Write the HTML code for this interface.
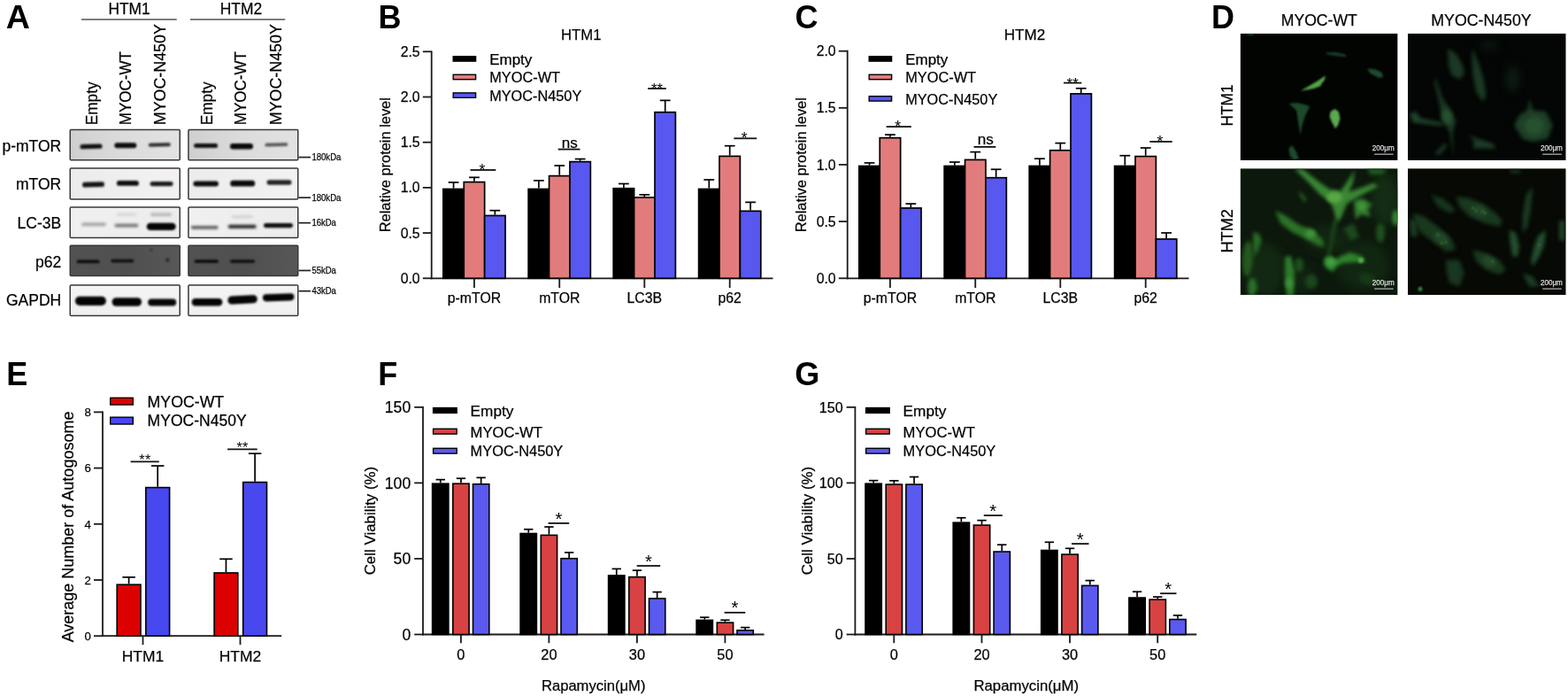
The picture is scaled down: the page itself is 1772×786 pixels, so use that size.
<!DOCTYPE html><html><head><meta charset="utf-8"><title>Figure</title><style>html,body{margin:0;padding:0;background:#fff;overflow:hidden}svg{display:block}text{font-family:"Liberation Sans", Arial, Helvetica, sans-serif}</style></head><body>
<svg width="1772" height="786" viewBox="0 0 1772 786">
<defs>
<filter color-interpolation-filters="sRGB" id="b1" x="-30%" y="-100%" width="160%" height="300%"><feGaussianBlur stdDeviation="1.1"/></filter>
<filter color-interpolation-filters="sRGB" id="b2" x="-30%" y="-100%" width="160%" height="300%"><feGaussianBlur stdDeviation="1.8"/></filter>
<filter color-interpolation-filters="sRGB" id="b3" x="-30%" y="-100%" width="160%" height="300%"><feGaussianBlur stdDeviation="2.6"/></filter>
<filter color-interpolation-filters="sRGB" id="cell" filterUnits="userSpaceOnUse" x="1390" y="30" width="390" height="310"><feGaussianBlur stdDeviation="2.2"/></filter>
<filter color-interpolation-filters="sRGB" id="cell2" filterUnits="userSpaceOnUse" x="1390" y="30" width="390" height="310"><feGaussianBlur stdDeviation="5"/></filter>
<linearGradient id="g1" x1="0" x2="1" y1="0" y2="0"><stop offset="0" stop-color="#cfcfcf"/><stop offset="0.5" stop-color="#dcdcdc"/><stop offset="1" stop-color="#e2e2e2"/></linearGradient>
<linearGradient id="g2" x1="0" x2="1" y1="0" y2="0"><stop offset="0" stop-color="#ececec"/><stop offset="1" stop-color="#f2f2f2"/></linearGradient>
<linearGradient id="g3" x1="0" x2="1" y1="0" y2="0"><stop offset="0" stop-color="#f0f0f0"/><stop offset="1" stop-color="#ececec"/></linearGradient>
<linearGradient id="g4" x1="0" x2="1" y1="0" y2="0"><stop offset="0" stop-color="#525252"/><stop offset="0.5" stop-color="#4f4f4f"/><stop offset="1" stop-color="#575757"/></linearGradient>
<linearGradient id="g5" x1="0" x2="0" y1="0" y2="1"><stop offset="0" stop-color="#f4f4f4"/><stop offset="1" stop-color="#f0f0f0"/></linearGradient>
</defs>
<rect x="0" y="0" width="1772" height="786" fill="#fff" />
<text x="6.8" y="31.8" font-size="37.6" font-weight="bold" fill="#000" >A</text>
<text x="146.1" y="15.6" font-size="17.6" text-anchor="middle" stroke="#141010" stroke-width="0.25" textLength="47.2" lengthAdjust="spacingAndGlyphs" >HTM1</text>
<text x="272.5" y="15.6" font-size="17.6" text-anchor="middle" stroke="#141010" stroke-width="0.25" textLength="47.5" lengthAdjust="spacingAndGlyphs" >HTM2</text>
<line x1="92" y1="22" x2="199.7" y2="22" stroke="#565050" stroke-width="1.6" />
<line x1="215" y1="22" x2="322.2" y2="22" stroke="#565050" stroke-width="1.6" />
<text x="109.6" y="141.2" font-size="18.4" stroke="#141010" stroke-width="0.25" textLength="48.8" lengthAdjust="spacingAndGlyphs" transform="rotate(-90 109.6 141.2)" >Empty</text>
<text x="147.9" y="141.2" font-size="18.4" stroke="#141010" stroke-width="0.25" textLength="83" lengthAdjust="spacingAndGlyphs" transform="rotate(-90 147.9 141.2)" >MYOC-WT</text>
<text x="187.3" y="141.2" font-size="18.4" stroke="#141010" stroke-width="0.25" textLength="114" lengthAdjust="spacingAndGlyphs" transform="rotate(-90 187.3 141.2)" >MYOC-N450Y</text>
<text x="239.9" y="141.2" font-size="18.4" stroke="#141010" stroke-width="0.25" textLength="48.8" lengthAdjust="spacingAndGlyphs" transform="rotate(-90 239.9 141.2)" >Empty</text>
<text x="278.1" y="141.2" font-size="18.4" stroke="#141010" stroke-width="0.25" textLength="83" lengthAdjust="spacingAndGlyphs" transform="rotate(-90 278.1 141.2)" >MYOC-WT</text>
<text x="317.6" y="141.2" font-size="18.4" stroke="#141010" stroke-width="0.25" textLength="114" lengthAdjust="spacingAndGlyphs" transform="rotate(-90 317.6 141.2)" >MYOC-N450Y</text>
<text x="69.2" y="170.9" font-size="17.5" text-anchor="end" stroke="#141010" stroke-width="0.25" >p-mTOR</text>
<text x="69.2" y="214.3" font-size="17.5" text-anchor="end" stroke="#141010" stroke-width="0.25" >mTOR</text>
<text x="69.2" y="257.7" font-size="17.5" text-anchor="end" stroke="#141010" stroke-width="0.25" >LC-3B</text>
<text x="69.2" y="301.6" font-size="17.5" text-anchor="end" stroke="#141010" stroke-width="0.25" >p62</text>
<text x="69.2" y="344.6" font-size="17.5" text-anchor="end" stroke="#141010" stroke-width="0.25" >GAPDH</text>
<rect x="79.3" y="146.6" width="123.9" height="34.1" fill="url(#g1)" />
<rect x="79.3" y="190.1" width="123.9" height="34.9" fill="url(#g2)" />
<rect x="79.3" y="234" width="123.9" height="34.5" fill="url(#g3)" />
<rect x="79.3" y="277.3" width="123.9" height="34.2" fill="url(#g4)" />
<rect x="79.3" y="322" width="123.9" height="34.5" fill="url(#g5)" />
<rect x="213" y="146.6" width="123.7" height="34.1" fill="url(#g1)" />
<rect x="213" y="190.1" width="123.7" height="34.9" fill="url(#g2)" />
<rect x="213" y="234" width="123.7" height="34.5" fill="url(#g3)" />
<rect x="213" y="277.3" width="123.7" height="34.2" fill="url(#g4)" />
<rect x="213" y="322" width="123.7" height="34.5" fill="url(#g5)" />
<rect x="90.5" y="162.8" width="25" height="5.2" rx="2.6" fill="#111" opacity="1" filter="url(#b1)" transform="rotate(-1.5 103 165.4)"/>
<rect x="129.3" y="161.2" width="25" height="6" rx="3" fill="#0c0c0c" opacity="1" filter="url(#b1)"/>
<rect x="167.8" y="161.4" width="25" height="4" rx="2" fill="#2a2a2a" opacity="1" filter="url(#b1)" transform="rotate(-1.5 180.3 163.4)"/>
<rect x="93" y="205.6" width="25" height="5.6" rx="2.8" fill="#121212" opacity="1" filter="url(#b1)" transform="rotate(-1.5 105.5 208.4)"/>
<rect x="131.9" y="204" width="25" height="5.8" rx="2.9" fill="#0e0e0e" opacity="1" filter="url(#b1)"/>
<rect x="169.6" y="204.9" width="26" height="5.4" rx="2.7" fill="#1c1c1c" opacity="1" filter="url(#b1)"/>
<rect x="92" y="251.6" width="28" height="3.6" rx="1.8" fill="#a4a4a4" opacity="1" filter="url(#b2)"/>
<rect x="129.5" y="252.65" width="27" height="3.9" rx="1.95" fill="#747474" opacity="1" filter="url(#b2)"/>
<rect x="132" y="240.7" width="22" height="3" rx="1.5" fill="#d4d4d4" opacity="1" filter="url(#b2)"/>
<rect x="170" y="240.45" width="24" height="3.5" rx="1.75" fill="#b4b4b4" opacity="1" filter="url(#b2)"/>
<rect x="165.7" y="251.7" width="33" height="8.4" rx="4.2" fill="#050505" opacity="1" filter="url(#b1)"/>
<rect x="86.6" y="293.5" width="26" height="3.8" rx="1.9" fill="#0e0e0e" opacity="1" filter="url(#b1)"/>
<rect x="125.3" y="292.7" width="26" height="3.8" rx="1.9" fill="#121212" opacity="1" filter="url(#b1)"/>
<circle cx="189.4" cy="293.7" r="2.2" fill="#2a2a2a" filter="url(#b1)"/>
<circle cx="171" cy="282" r="1.5" fill="#303030" filter="url(#b1)"/>
<rect x="84.9" y="334.7" width="35" height="10.2" rx="5.1" fill="#050505" opacity="1" filter="url(#b1)"/>
<rect x="126.55" y="336.2" width="33.5" height="9.6" rx="4.8" fill="#050505" opacity="1" filter="url(#b1)"/>
<rect x="167.2" y="337.6" width="32" height="7.8" rx="3.9" fill="#070707" opacity="1" filter="url(#b1)"/>
<rect x="219.1" y="161.9" width="27" height="5" rx="2.5" fill="#111" opacity="1" filter="url(#b1)"/>
<rect x="260" y="162" width="26" height="6.4" rx="3.2" fill="#080808" opacity="1" filter="url(#b1)"/>
<rect x="299.3" y="161.6" width="26" height="3.6" rx="1.8" fill="#555" opacity="1" filter="url(#b1)" transform="rotate(-1.5 312.3 163.4)"/>
<rect x="218.45" y="204.5" width="28.5" height="6" rx="3" fill="#0c0c0c" opacity="1" filter="url(#b1)"/>
<rect x="260.2" y="203.8" width="28" height="6.8" rx="3.4" fill="#0a0a0a" opacity="1" filter="url(#b1)"/>
<rect x="301.5" y="203.3" width="28" height="5.4" rx="2.7" fill="#242424" opacity="1" filter="url(#b1)"/>
<rect x="215.7" y="254.9" width="31" height="3.8" rx="1.9" fill="#5e5e5e" opacity="1" filter="url(#b2)"/>
<rect x="257.7" y="253.8" width="32" height="4.2" rx="2.1" fill="#2c2c2c" opacity="1" filter="url(#b2)"/>
<rect x="261.7" y="243.3" width="24" height="3" rx="1.5" fill="#cfcfcf" opacity="1" filter="url(#b2)"/>
<rect x="298" y="251.9" width="33" height="5.4" rx="2.7" fill="#111" opacity="1" filter="url(#b1)"/>
<rect x="219.55" y="293.2" width="27.5" height="3.8" rx="1.9" fill="#0e0e0e" opacity="1" filter="url(#b1)"/>
<rect x="259.95" y="293.2" width="28.3" height="3.8" rx="1.9" fill="#121212" opacity="1" filter="url(#b1)"/>
<rect x="216.65" y="337.1" width="34.7" height="8.4" rx="4.2" fill="#050505" opacity="1" filter="url(#b1)"/>
<rect x="257.35" y="333.8" width="33.5" height="9.2" rx="4.6" fill="#050505" opacity="1" filter="url(#b1)" transform="rotate(-3 274.1 338.4)"/>
<rect x="296.9" y="331.7" width="35.6" height="8.2" rx="4.1" fill="#050505" opacity="1" filter="url(#b1)" transform="rotate(-2 314.7 335.8)"/>
<rect x="79.25" y="146.55" width="124" height="34.2" fill="none" stroke="#3c3636" stroke-width="1.5" rx="1"/>
<rect x="79.25" y="190.05" width="124" height="35" fill="none" stroke="#3c3636" stroke-width="1.5" rx="1"/>
<rect x="79.25" y="233.95" width="124" height="34.6" fill="none" stroke="#3c3636" stroke-width="1.5" rx="1"/>
<rect x="79.25" y="277.25" width="124" height="34.3" fill="none" stroke="#3c3636" stroke-width="1.5" rx="1"/>
<rect x="79.25" y="321.95" width="124" height="34.6" fill="none" stroke="#3c3636" stroke-width="1.5" rx="1"/>
<rect x="212.95" y="146.55" width="123.8" height="34.2" fill="none" stroke="#3c3636" stroke-width="1.5" rx="1"/>
<rect x="212.95" y="190.05" width="123.8" height="35" fill="none" stroke="#3c3636" stroke-width="1.5" rx="1"/>
<rect x="212.95" y="233.95" width="123.8" height="34.6" fill="none" stroke="#3c3636" stroke-width="1.5" rx="1"/>
<rect x="212.95" y="277.25" width="123.8" height="34.3" fill="none" stroke="#3c3636" stroke-width="1.5" rx="1"/>
<rect x="212.95" y="321.95" width="123.8" height="34.6" fill="none" stroke="#3c3636" stroke-width="1.5" rx="1"/>
<line x1="337.5" y1="177.6" x2="351" y2="177.6" stroke="#222" stroke-width="1.7" />
<text x="352.4" y="181.3" font-size="10" stroke="#141010" stroke-width="0.25" textLength="33" lengthAdjust="spacingAndGlyphs" >180kDa</text>
<line x1="337.5" y1="223.2" x2="351" y2="223.2" stroke="#222" stroke-width="1.7" />
<text x="352.4" y="226.9" font-size="10" stroke="#141010" stroke-width="0.25" textLength="33" lengthAdjust="spacingAndGlyphs" >180kDa</text>
<line x1="337.5" y1="251.7" x2="351" y2="251.7" stroke="#222" stroke-width="1.7" />
<text x="352.4" y="255.4" font-size="10" stroke="#141010" stroke-width="0.25" textLength="27.5" lengthAdjust="spacingAndGlyphs" >16kDa</text>
<line x1="337.5" y1="305.5" x2="351" y2="305.5" stroke="#222" stroke-width="1.7" />
<text x="352.4" y="309.2" font-size="10" stroke="#141010" stroke-width="0.25" textLength="27.5" lengthAdjust="spacingAndGlyphs" >55kDa</text>
<line x1="337.5" y1="328.7" x2="351" y2="328.7" stroke="#222" stroke-width="1.7" />
<text x="352.4" y="332.4" font-size="10" stroke="#141010" stroke-width="0.25" textLength="27.5" lengthAdjust="spacingAndGlyphs" >43kDa</text>
<text x="427.5" y="31.6" font-size="36" font-weight="bold" fill="#000" >B</text>
<text x="656.7" y="44.9" font-size="16.9" text-anchor="middle" stroke="#141010" stroke-width="0.25" textLength="45.5" lengthAdjust="spacingAndGlyphs" >HTM1</text>
<line x1="487.7" y1="57.4" x2="487.7" y2="315.2" stroke="#1a1a1a" stroke-width="1.8" />
<line x1="486.8" y1="314.3" x2="873.5" y2="314.3" stroke="#1a1a1a" stroke-width="1.8" />
<line x1="477.8" y1="58.3" x2="487.7" y2="58.3" stroke="#1a1a1a" stroke-width="1.8" />
<text x="474.6" y="63.8" font-size="15.8" text-anchor="end" stroke="#141010" stroke-width="0.25" >2.5</text>
<line x1="477.8" y1="109.5" x2="487.7" y2="109.5" stroke="#1a1a1a" stroke-width="1.8" />
<text x="474.6" y="115" font-size="15.8" text-anchor="end" stroke="#141010" stroke-width="0.25" >2.0</text>
<line x1="477.8" y1="160.7" x2="487.7" y2="160.7" stroke="#1a1a1a" stroke-width="1.8" />
<text x="474.6" y="166.2" font-size="15.8" text-anchor="end" stroke="#141010" stroke-width="0.25" >1.5</text>
<line x1="477.8" y1="211.9" x2="487.7" y2="211.9" stroke="#1a1a1a" stroke-width="1.8" />
<text x="474.6" y="217.4" font-size="15.8" text-anchor="end" stroke="#141010" stroke-width="0.25" >1.0</text>
<line x1="477.8" y1="263.1" x2="487.7" y2="263.1" stroke="#1a1a1a" stroke-width="1.8" />
<text x="474.6" y="268.6" font-size="15.8" text-anchor="end" stroke="#141010" stroke-width="0.25" >0.5</text>
<line x1="477.8" y1="314.3" x2="487.7" y2="314.3" stroke="#1a1a1a" stroke-width="1.8" />
<text x="474.6" y="319.8" font-size="15.8" text-anchor="end" stroke="#141010" stroke-width="0.25" >0.0</text>
<text x="440.8" y="262.3" font-size="16.1" stroke="#141010" stroke-width="0.25" textLength="152.2" lengthAdjust="spacingAndGlyphs" transform="rotate(-90 440.8 262.3)" >Relative protein level</text>
<rect x="512.2" y="63.7" width="25.4" height="5.4" fill="#000" stroke="#000" stroke-width="1.4" />
<text x="553.2" y="72.8" font-size="15.6" stroke="#141010" stroke-width="0.25" textLength="48.1" lengthAdjust="spacingAndGlyphs" >Empty</text>
<rect x="512.2" y="84.3" width="25.4" height="5.4" fill="#e27c7c" stroke="#000" stroke-width="1.4" />
<text x="553.2" y="93.4" font-size="15.6" stroke="#141010" stroke-width="0.25" textLength="79.9" lengthAdjust="spacingAndGlyphs" >MYOC-WT</text>
<rect x="512.2" y="104.9" width="25.4" height="5.4" fill="#5858f0" stroke="#000" stroke-width="1.4" />
<text x="553.2" y="114" font-size="15.6" stroke="#141010" stroke-width="0.25" textLength="104.1" lengthAdjust="spacingAndGlyphs" >MYOC-N450Y</text>
<rect x="500.85" y="213.47" width="23.4" height="100.83" fill="#000" stroke="#000" stroke-width="1.7" />
<rect x="524.25" y="205.58" width="23.4" height="108.72" fill="#e27c7c" stroke="#000" stroke-width="1.7" />
<rect x="547.65" y="243.47" width="23.4" height="70.83" fill="#5858f0" stroke="#000" stroke-width="1.7" />
<line x1="512.55" y1="212.62" x2="512.55" y2="205.96" stroke="#000" stroke-width="1.7" />
<line x1="506.65" y1="205.96" x2="518.45" y2="205.96" stroke="#000" stroke-width="1.7" />
<line x1="535.95" y1="204.73" x2="535.95" y2="200.33" stroke="#000" stroke-width="1.7" />
<line x1="530.05" y1="200.33" x2="541.85" y2="200.33" stroke="#000" stroke-width="1.7" />
<line x1="559.35" y1="242.62" x2="559.35" y2="237.7" stroke="#000" stroke-width="1.7" />
<line x1="553.45" y1="237.7" x2="565.25" y2="237.7" stroke="#000" stroke-width="1.7" />
<line x1="535.95" y1="314.3" x2="535.95" y2="325" stroke="#1a1a1a" stroke-width="1.8" />
<text x="535.95" y="342" font-size="15.8" text-anchor="middle" stroke="#141010" stroke-width="0.25" >p-mTOR</text>
<rect x="597.15" y="213.47" width="23.4" height="100.83" fill="#000" stroke="#000" stroke-width="1.7" />
<rect x="620.55" y="198.62" width="23.4" height="115.68" fill="#e27c7c" stroke="#000" stroke-width="1.7" />
<rect x="643.95" y="182.64" width="23.4" height="131.66" fill="#5858f0" stroke="#000" stroke-width="1.7" />
<line x1="608.85" y1="212.62" x2="608.85" y2="203.91" stroke="#000" stroke-width="1.7" />
<line x1="602.95" y1="203.91" x2="614.75" y2="203.91" stroke="#000" stroke-width="1.7" />
<line x1="632.25" y1="197.77" x2="632.25" y2="187.02" stroke="#000" stroke-width="1.7" />
<line x1="626.35" y1="187.02" x2="638.15" y2="187.02" stroke="#000" stroke-width="1.7" />
<line x1="655.65" y1="181.79" x2="655.65" y2="179.54" stroke="#000" stroke-width="1.7" />
<line x1="649.75" y1="179.54" x2="661.55" y2="179.54" stroke="#000" stroke-width="1.7" />
<line x1="632.25" y1="314.3" x2="632.25" y2="325" stroke="#1a1a1a" stroke-width="1.8" />
<text x="632.25" y="342" font-size="15.8" text-anchor="middle" stroke="#141010" stroke-width="0.25" >mTOR</text>
<rect x="693.2" y="212.75" width="23.4" height="101.55" fill="#000" stroke="#000" stroke-width="1.7" />
<rect x="716.6" y="222.99" width="23.4" height="91.31" fill="#e27c7c" stroke="#000" stroke-width="1.7" />
<rect x="740" y="126.73" width="23.4" height="187.57" fill="#5858f0" stroke="#000" stroke-width="1.7" />
<line x1="704.9" y1="211.9" x2="704.9" y2="207.5" stroke="#000" stroke-width="1.7" />
<line x1="699" y1="207.5" x2="710.8" y2="207.5" stroke="#000" stroke-width="1.7" />
<line x1="728.3" y1="222.14" x2="728.3" y2="219.89" stroke="#000" stroke-width="1.7" />
<line x1="722.4" y1="219.89" x2="734.2" y2="219.89" stroke="#000" stroke-width="1.7" />
<line x1="751.7" y1="125.88" x2="751.7" y2="113.39" stroke="#000" stroke-width="1.7" />
<line x1="745.8" y1="113.39" x2="757.6" y2="113.39" stroke="#000" stroke-width="1.7" />
<line x1="728.3" y1="314.3" x2="728.3" y2="325" stroke="#1a1a1a" stroke-width="1.8" />
<text x="728.3" y="342" font-size="15.8" text-anchor="middle" stroke="#141010" stroke-width="0.25" >LC3B</text>
<rect x="789.6" y="213.47" width="23.4" height="100.83" fill="#000" stroke="#000" stroke-width="1.7" />
<rect x="813" y="176.4" width="23.4" height="137.9" fill="#e27c7c" stroke="#000" stroke-width="1.7" />
<rect x="836.4" y="238.35" width="23.4" height="75.95" fill="#5858f0" stroke="#000" stroke-width="1.7" />
<line x1="801.3" y1="212.62" x2="801.3" y2="202.99" stroke="#000" stroke-width="1.7" />
<line x1="795.4" y1="202.99" x2="807.2" y2="202.99" stroke="#000" stroke-width="1.7" />
<line x1="824.7" y1="175.55" x2="824.7" y2="164.69" stroke="#000" stroke-width="1.7" />
<line x1="818.8" y1="164.69" x2="830.6" y2="164.69" stroke="#000" stroke-width="1.7" />
<line x1="848.1" y1="237.5" x2="848.1" y2="228.39" stroke="#000" stroke-width="1.7" />
<line x1="842.2" y1="228.39" x2="854" y2="228.39" stroke="#000" stroke-width="1.7" />
<line x1="824.7" y1="314.3" x2="824.7" y2="325" stroke="#1a1a1a" stroke-width="1.8" />
<text x="824.7" y="342" font-size="15.8" text-anchor="middle" stroke="#141010" stroke-width="0.25" >p62</text>
<line x1="531.5" y1="192" x2="560.3" y2="192" stroke="#111" stroke-width="1.8" />
<text x="544.9" y="197.58" font-size="17.65" text-anchor="middle" fill="#000" >*</text>
<line x1="630.7" y1="168.6" x2="655.5" y2="168.6" stroke="#111" stroke-width="1.8" />
<text x="643.9" y="166.7" font-size="17.1" text-anchor="middle" stroke="#141010" stroke-width="0.25" >ns</text>
<line x1="732.1" y1="100" x2="752.8" y2="100" stroke="#111" stroke-width="1.8" />
<text x="739.15" y="106.12" font-size="16.76" text-anchor="middle" fill="#000" >*</text>
<text x="745.75" y="106.12" font-size="16.76" text-anchor="middle" fill="#000" >*</text>
<line x1="829.3" y1="156.3" x2="855.2" y2="156.3" stroke="#111" stroke-width="1.8" />
<text x="841.25" y="161.88" font-size="17.65" text-anchor="middle" fill="#000" >*</text>
<text x="898.5" y="31.6" font-size="36" font-weight="bold" fill="#000" >C</text>
<text x="1158" y="44.9" font-size="16.9" text-anchor="middle" stroke="#141010" stroke-width="0.25" textLength="46.5" lengthAdjust="spacingAndGlyphs" >HTM2</text>
<line x1="957.7" y1="56.8" x2="957.7" y2="315.2" stroke="#1a1a1a" stroke-width="1.8" />
<line x1="956.8" y1="314.3" x2="1343.5" y2="314.3" stroke="#1a1a1a" stroke-width="1.8" />
<line x1="947.8" y1="57.7" x2="957.7" y2="57.7" stroke="#1a1a1a" stroke-width="1.8" />
<text x="944.6" y="63.2" font-size="15.8" text-anchor="end" stroke="#141010" stroke-width="0.25" >2.0</text>
<line x1="947.8" y1="121.85" x2="957.7" y2="121.85" stroke="#1a1a1a" stroke-width="1.8" />
<text x="944.6" y="127.35" font-size="15.8" text-anchor="end" stroke="#141010" stroke-width="0.25" >1.5</text>
<line x1="947.8" y1="186" x2="957.7" y2="186" stroke="#1a1a1a" stroke-width="1.8" />
<text x="944.6" y="191.5" font-size="15.8" text-anchor="end" stroke="#141010" stroke-width="0.25" >1.0</text>
<line x1="947.8" y1="250.15" x2="957.7" y2="250.15" stroke="#1a1a1a" stroke-width="1.8" />
<text x="944.6" y="255.65" font-size="15.8" text-anchor="end" stroke="#141010" stroke-width="0.25" >0.5</text>
<line x1="947.8" y1="314.3" x2="957.7" y2="314.3" stroke="#1a1a1a" stroke-width="1.8" />
<text x="944.6" y="319.8" font-size="15.8" text-anchor="end" stroke="#141010" stroke-width="0.25" >0.0</text>
<text x="910.8" y="262.3" font-size="16.1" stroke="#141010" stroke-width="0.25" textLength="152.2" lengthAdjust="spacingAndGlyphs" transform="rotate(-90 910.8 262.3)" >Relative protein level</text>
<rect x="982.2" y="63.7" width="25.4" height="5.4" fill="#000" stroke="#000" stroke-width="1.4" />
<text x="1023.2" y="72.8" font-size="15.6" stroke="#141010" stroke-width="0.25" textLength="48.1" lengthAdjust="spacingAndGlyphs" >Empty</text>
<rect x="982.2" y="84.3" width="25.4" height="5.4" fill="#e27c7c" stroke="#000" stroke-width="1.4" />
<text x="1023.2" y="93.4" font-size="15.6" stroke="#141010" stroke-width="0.25" textLength="79.9" lengthAdjust="spacingAndGlyphs" >MYOC-WT</text>
<rect x="982.2" y="108.7" width="25.4" height="5.4" fill="#5858f0" stroke="#000" stroke-width="1.4" />
<text x="1023.2" y="117.8" font-size="15.6" stroke="#141010" stroke-width="0.25" textLength="104.1" lengthAdjust="spacingAndGlyphs" >MYOC-N450Y</text>
<rect x="970.85" y="187.49" width="23.4" height="126.81" fill="#000" stroke="#000" stroke-width="1.7" />
<rect x="994.25" y="155.67" width="23.4" height="158.63" fill="#e27c7c" stroke="#000" stroke-width="1.7" />
<rect x="1017.65" y="234.96" width="23.4" height="79.34" fill="#5858f0" stroke="#000" stroke-width="1.7" />
<line x1="982.55" y1="186.64" x2="982.55" y2="183.95" stroke="#000" stroke-width="1.7" />
<line x1="976.65" y1="183.95" x2="988.45" y2="183.95" stroke="#000" stroke-width="1.7" />
<line x1="1005.95" y1="154.82" x2="1005.95" y2="152.13" stroke="#000" stroke-width="1.7" />
<line x1="1000.05" y1="152.13" x2="1011.85" y2="152.13" stroke="#000" stroke-width="1.7" />
<line x1="1029.35" y1="234.11" x2="1029.35" y2="230.14" stroke="#000" stroke-width="1.7" />
<line x1="1023.45" y1="230.14" x2="1035.25" y2="230.14" stroke="#000" stroke-width="1.7" />
<line x1="1005.95" y1="314.3" x2="1005.95" y2="325" stroke="#1a1a1a" stroke-width="1.8" />
<text x="1005.95" y="342" font-size="15.8" text-anchor="middle" stroke="#141010" stroke-width="0.25" >p-mTOR</text>
<rect x="1067.15" y="187.49" width="23.4" height="126.81" fill="#000" stroke="#000" stroke-width="1.7" />
<rect x="1090.55" y="180.43" width="23.4" height="133.87" fill="#e27c7c" stroke="#000" stroke-width="1.7" />
<rect x="1113.95" y="200.71" width="23.4" height="113.59" fill="#5858f0" stroke="#000" stroke-width="1.7" />
<line x1="1078.85" y1="186.64" x2="1078.85" y2="183.05" stroke="#000" stroke-width="1.7" />
<line x1="1072.95" y1="183.05" x2="1084.75" y2="183.05" stroke="#000" stroke-width="1.7" />
<line x1="1102.25" y1="179.58" x2="1102.25" y2="171.63" stroke="#000" stroke-width="1.7" />
<line x1="1096.35" y1="171.63" x2="1108.15" y2="171.63" stroke="#000" stroke-width="1.7" />
<line x1="1125.65" y1="199.86" x2="1125.65" y2="191.26" stroke="#000" stroke-width="1.7" />
<line x1="1119.75" y1="191.26" x2="1131.55" y2="191.26" stroke="#000" stroke-width="1.7" />
<line x1="1102.25" y1="314.3" x2="1102.25" y2="325" stroke="#1a1a1a" stroke-width="1.8" />
<text x="1102.25" y="342" font-size="15.8" text-anchor="middle" stroke="#141010" stroke-width="0.25" >mTOR</text>
<rect x="1163.2" y="187.49" width="23.4" height="126.81" fill="#000" stroke="#000" stroke-width="1.7" />
<rect x="1186.6" y="169.79" width="23.4" height="144.51" fill="#e27c7c" stroke="#000" stroke-width="1.7" />
<rect x="1210" y="105.89" width="23.4" height="208.41" fill="#5858f0" stroke="#000" stroke-width="1.7" />
<line x1="1174.9" y1="186.64" x2="1174.9" y2="179.2" stroke="#000" stroke-width="1.7" />
<line x1="1169" y1="179.2" x2="1180.8" y2="179.2" stroke="#000" stroke-width="1.7" />
<line x1="1198.3" y1="168.94" x2="1198.3" y2="161.62" stroke="#000" stroke-width="1.7" />
<line x1="1192.4" y1="161.62" x2="1204.2" y2="161.62" stroke="#000" stroke-width="1.7" />
<line x1="1221.7" y1="105.04" x2="1221.7" y2="99.78" stroke="#000" stroke-width="1.7" />
<line x1="1215.8" y1="99.78" x2="1227.6" y2="99.78" stroke="#000" stroke-width="1.7" />
<line x1="1198.3" y1="314.3" x2="1198.3" y2="325" stroke="#1a1a1a" stroke-width="1.8" />
<text x="1198.3" y="342" font-size="15.8" text-anchor="middle" stroke="#141010" stroke-width="0.25" >LC3B</text>
<rect x="1259.6" y="187.49" width="23.4" height="126.81" fill="#000" stroke="#000" stroke-width="1.7" />
<rect x="1283" y="176.59" width="23.4" height="137.71" fill="#e27c7c" stroke="#000" stroke-width="1.7" />
<rect x="1306.4" y="269.99" width="23.4" height="44.31" fill="#5858f0" stroke="#000" stroke-width="1.7" />
<line x1="1271.3" y1="186.64" x2="1271.3" y2="175.74" stroke="#000" stroke-width="1.7" />
<line x1="1265.4" y1="175.74" x2="1277.2" y2="175.74" stroke="#000" stroke-width="1.7" />
<line x1="1294.7" y1="175.74" x2="1294.7" y2="167.01" stroke="#000" stroke-width="1.7" />
<line x1="1288.8" y1="167.01" x2="1300.6" y2="167.01" stroke="#000" stroke-width="1.7" />
<line x1="1318.1" y1="269.14" x2="1318.1" y2="262.98" stroke="#000" stroke-width="1.7" />
<line x1="1312.2" y1="262.98" x2="1324" y2="262.98" stroke="#000" stroke-width="1.7" />
<line x1="1294.7" y1="314.3" x2="1294.7" y2="325" stroke="#1a1a1a" stroke-width="1.8" />
<text x="1294.7" y="342" font-size="15.8" text-anchor="middle" stroke="#141010" stroke-width="0.25" >p62</text>
<line x1="1001.6" y1="143.1" x2="1029.8" y2="143.1" stroke="#111" stroke-width="1.8" />
<text x="1014.7" y="148.68" font-size="17.65" text-anchor="middle" fill="#000" >*</text>
<line x1="1100.5" y1="165.9" x2="1125.3" y2="165.9" stroke="#111" stroke-width="1.8" />
<text x="1113.7" y="162.7" font-size="17.1" text-anchor="middle" stroke="#141010" stroke-width="0.25" >ns</text>
<line x1="1202" y1="93.6" x2="1222.3" y2="93.6" stroke="#111" stroke-width="1.8" />
<text x="1208.85" y="99.72" font-size="16.76" text-anchor="middle" fill="#000" >*</text>
<text x="1215.45" y="99.72" font-size="16.76" text-anchor="middle" fill="#000" >*</text>
<line x1="1299.3" y1="160" x2="1324.7" y2="160" stroke="#111" stroke-width="1.8" />
<text x="1311" y="165.58" font-size="17.65" text-anchor="middle" fill="#000" >*</text>
<text x="1369" y="32" font-size="36" font-weight="bold" fill="#000" >D</text>
<text x="1490.8" y="29.3" font-size="17.6" text-anchor="middle" stroke="#141010" stroke-width="0.25" textLength="86" lengthAdjust="spacingAndGlyphs" >MYOC-WT</text>
<text x="1674" y="29.3" font-size="17.6" text-anchor="middle" stroke="#141010" stroke-width="0.25" textLength="113.3" lengthAdjust="spacingAndGlyphs" >MYOC-N450Y</text>
<text x="1393.4" y="118.9" font-size="18.2" text-anchor="middle" stroke="#141010" stroke-width="0.25" textLength="47.2" lengthAdjust="spacingAndGlyphs" transform="rotate(-90 1393.4 118.9)" >HTM1</text>
<text x="1393.4" y="260.8" font-size="18.2" text-anchor="middle" stroke="#141010" stroke-width="0.25" textLength="49.5" lengthAdjust="spacingAndGlyphs" transform="rotate(-90 1393.4 260.8)" >HTM2</text>
<clipPath id="cp0"><rect x="1401.6" y="37.8" width="178" height="143.2"/></clipPath>
<clipPath id="cp1"><rect x="1591" y="37.8" width="178.7" height="143.2"/></clipPath>
<clipPath id="cp2"><rect x="1401.6" y="190.2" width="178" height="142.8"/></clipPath>
<clipPath id="cp3"><rect x="1591" y="190.2" width="178.7" height="142.8"/></clipPath>
<g clip-path="url(#cp0)">
<rect x="1401.6" y="37.8" width="178" height="143.2" fill="#020402" />
<polygon points="1469.64,102.82 1479.05,97.17 1490.34,90.58 1497.87,85.31 1496.93,90.58 1494.11,93.41 1492.23,97.17 1484.7,99.99" fill="#56a04c" opacity="1" filter="url(#b1)"/>
<polygon points="1503.52,126.34 1508.23,122.96 1512.93,126.34 1514.44,133.87 1512.55,140.46 1509.17,145.17 1505.4,138.58 1502.58,131.99" fill="#5aa850" opacity="1" filter="url(#b1)"/>
<polygon points="1456.47,116.93 1465.88,115.99 1477.17,118.82 1479.99,120.7 1475.29,130.11 1471.52,141.4 1469.64,152.69 1467.76,141.4 1464.94,124.46" fill="#1c4a2a" opacity="1" filter="url(#b1)"/>
<polygon points="1544.93,77.41 1554.34,78.35 1561.87,82.11 1562.81,87.76 1558.1,87.76 1548.69,83.05" fill="#1f4a2e" opacity="1" filter="url(#b1)"/>
<polygon points="1497.87,59.53 1509.17,58.96 1520.46,61.41 1521.4,64.23 1511.05,63.29 1499.76,61.41" fill="#1c3e28" opacity="1" filter="url(#b1)"/>
<polygon points="1456.47,167.75 1460.23,163.99 1464.94,171.52 1467.76,179.05 1462.11,180.93 1457.41,175.28" fill="#1c4a2a" opacity="1" filter="url(#b1)"/>
<ellipse cx="1413.18" cy="38.26" rx="4.71" ry="1.13" fill="#2a6a3a" opacity="1" filter="url(#b1)" transform="rotate(0 1413.18 38.26)"/>
</g>
<g clip-path="url(#cp1)">
<rect x="1591" y="37.8" width="178.7" height="143.2" fill="#030604" />
<polygon points="1636.05,54.82 1645.47,60.47 1652.99,73.64 1654.88,83.05 1649.23,89.64 1639.82,84 1637,73.64" fill="#1b3823" opacity="1" filter="url(#cell)"/>
<polygon points="1664.29,54.82 1671.82,73.64 1677.46,92.47 1679.34,107.52 1675.58,115.05 1668.05,103.76 1664.29,83.05 1663.35,64.23" fill="#1b3823" opacity="1" filter="url(#cell)"/>
<polygon points="1621.94,86.82 1630.41,111.29 1639.82,124.46 1645.47,137.64 1641.7,148.93 1642.64,179.05 1638.31,148.93 1630.41,135.76 1626.64,116.93 1621,92.47" fill="#1b3823" opacity="1" filter="url(#cell)"/>
<ellipse cx="1635.11" cy="131.99" rx="5.65" ry="8.47" fill="#26502f" opacity="1" filter="url(#cell)" transform="rotate(-15 1635.11 131.99)"/>
<polygon points="1728.28,111.29 1732.05,124.46 1747.1,126.34 1754.63,141.4 1748.98,156.46 1732.05,160.22 1720.75,156.46 1711.34,141.4 1716.99,130.11 1726.4,124.46" fill="#1e3f26" opacity="1" filter="url(#cell)"/>
<ellipse cx="1733.93" cy="142.34" rx="11.29" ry="10.35" fill="#26502f" opacity="1" filter="url(#cell)" transform="rotate(0 1733.93 142.34)"/>
<polygon points="1592.76,128.23 1600.29,126.34 1605.94,133.87 1630.41,138.58 1630.41,142.34 1605.94,139.52 1596.53,138.58" fill="#1f4229" opacity="1" filter="url(#cell)"/>
<polygon points="1660.52,152.69 1669.93,156.46 1686.87,162.11 1690.64,167.75 1677.46,167.75 1664.29,167.75 1666.17,160.22" fill="#1c3c26" opacity="1" filter="url(#cell)"/>
<polygon points="1621,173.4 1632.29,162.11 1636.05,163.99 1626.64,175.28" fill="#1a3824" opacity="1" filter="url(#cell)"/>
<ellipse cx="1709.46" cy="88.7" rx="7.53" ry="15.06" fill="#0d1c12" opacity="1" filter="url(#cell2)" transform="rotate(0 1709.46 88.7)"/>
<ellipse cx="1683.11" cy="51.06" rx="11.29" ry="5.65" fill="#0b160e" opacity="1" filter="url(#cell2)" transform="rotate(0 1683.11 51.06)"/>
</g>
<g clip-path="url(#cp2)">
<rect x="1401.6" y="190.2" width="178" height="142.8" fill="#0c180c" />
<ellipse cx="1430" cy="305" rx="22" ry="30" fill="#122812" opacity="1" filter="url(#cell2)" transform="rotate(0 1430 305)"/>
<ellipse cx="1540" cy="300" rx="30" ry="28" fill="#112611" opacity="1" filter="url(#cell2)" transform="rotate(0 1540 300)"/>
<ellipse cx="1565" cy="225" rx="16" ry="30" fill="#132c13" opacity="1" filter="url(#cell2)" transform="rotate(0 1565 225)"/>
<ellipse cx="1500" cy="270" rx="25" ry="15" fill="#112611" opacity="1" filter="url(#cell2)" transform="rotate(0 1500 270)"/>
<ellipse cx="1470" cy="315" rx="15" ry="18" fill="#102410" opacity="1" filter="url(#cell2)" transform="rotate(0 1470 315)"/>
<polygon points="1463,191 1472,191 1490,205 1503,214 1515,216 1526,200 1531,192 1529,206 1524,217 1552,207 1558,210 1536,222 1522,230 1516,245 1511,252 1508,240 1504,228 1492,220 1478,205" fill="#3a8634" opacity="1" filter="url(#cell)"/>
<ellipse cx="1508" cy="223" rx="9" ry="6.5" fill="#58a846" opacity="1" filter="url(#cell)" transform="rotate(0 1508 223)"/>
<polygon points="1530,226 1540,224 1551,231 1546,236 1549,245 1538,242 1532,248 1531,238" fill="#347e30" opacity="1" filter="url(#cell)"/>
<ellipse cx="1539" cy="233" rx="4" ry="4" fill="#48983e" opacity="1" filter="url(#cell)" transform="rotate(0 1539 233)"/>
<polygon points="1507,248 1511,248 1506,275 1503,290 1500,288 1504,270" fill="#1e4e1e" opacity="1" filter="url(#cell)"/>
<polygon points="1441,238 1452,243 1468,254 1482,259 1494,270 1497,279 1489,277 1476,270 1460,262 1447,252" fill="#2c7228" opacity="1" filter="url(#cell)"/>
<ellipse cx="1481" cy="264" rx="6" ry="5" fill="#3e923a" opacity="1" filter="url(#cell)" transform="rotate(0 1481 264)"/>
<polygon points="1467,217 1471,218 1477,226 1474,228" fill="#2a6a28" opacity="1" filter="url(#cell)"/>
<polygon points="1497,290 1504,289 1509,293 1516,289 1526,285 1540,290 1543,296 1533,296 1518,297 1510,301 1507,307 1500,304 1496,298" fill="#2e822c" opacity="1" filter="url(#cell)"/>
<ellipse cx="1504" cy="296" rx="5.5" ry="5" fill="#44a040" opacity="1" filter="url(#cell)" transform="rotate(0 1504 296)"/>
<ellipse cx="1538" cy="294" rx="3.2" ry="3" fill="#4cac48" opacity="1" filter="url(#b1)" transform="rotate(0 1538 294)"/>
<ellipse cx="1410" cy="292" rx="6" ry="20" fill="#24581f" opacity="1" filter="url(#cell)" transform="rotate(3 1410 292)"/>
<polygon points="1416,262 1423,264 1426,272 1422,282 1418,290 1416,278" fill="#286a26" opacity="1" filter="url(#cell)"/>
<polygon points="1413,313 1419,316 1421,326 1417,334 1411,334 1410,322" fill="#2a6e28" opacity="1" filter="url(#cell)"/>
<polygon points="1452,290 1459,289 1463,305 1462,334 1454,334 1452,312" fill="#2e7a2c" opacity="1" filter="url(#cell)"/>
<ellipse cx="1457" cy="320" rx="4" ry="6" fill="#3e923a" opacity="1" filter="url(#cell)" transform="rotate(0 1457 320)"/>
<ellipse cx="1468" cy="299" rx="5" ry="8" fill="#1f4e1f" opacity="1" filter="url(#cell)" transform="rotate(0 1468 299)"/>
<ellipse cx="1482" cy="318" rx="7" ry="8" fill="#1c461c" opacity="1" filter="url(#cell)" transform="rotate(0 1482 318)"/>
<ellipse cx="1560" cy="263" rx="5" ry="11" fill="#1f501f" opacity="1" filter="url(#cell)" transform="rotate(0 1560 263)"/>
<ellipse cx="1577" cy="246" rx="3.5" ry="9" fill="#3a8a36" opacity="1" filter="url(#cell)" transform="rotate(0 1577 246)"/>
<polygon points="1545,190 1568,191 1562,197 1548,197" fill="#245c22" opacity="1" filter="url(#cell)"/>
<polygon points="1518,258 1530,252 1536,268 1526,272" fill="#1c481c" opacity="1" filter="url(#cell)"/>
<ellipse cx="1545" cy="315" rx="10" ry="6" fill="#163a16" opacity="1" filter="url(#cell)" transform="rotate(20 1545 315)"/>
</g>
<g clip-path="url(#cp3)">
<rect x="1591" y="190.2" width="178.7" height="142.8" fill="#060904" />
<polygon points="1645.47,221.88 1660.52,223.76 1677.46,231.29 1690.64,240.7 1698.17,250.11 1694.4,255.76 1677.46,251.99 1660.52,244.47 1649.23,233.17" fill="#19381d" opacity="1" filter="url(#cell)"/>
<ellipse cx="1671.82" cy="237.88" rx="9.41" ry="5.65" fill="#22482a" opacity="1" filter="url(#cell)" transform="rotate(25 1671.82 237.88)"/>
<polygon points="1596.53,240.7 1609.7,244.47 1624.76,255.76 1639.82,268.93 1645.47,282.11 1634.17,283.99 1619.11,272.7 1604.06,261.4 1598.41,250.11" fill="#19381d" opacity="1" filter="url(#cell)"/>
<ellipse cx="1628.53" cy="268.93" rx="9.41" ry="5.65" fill="#22482a" opacity="1" filter="url(#cell)" transform="rotate(35 1628.53 268.93)"/>
<polygon points="1664.29,282.11 1679.34,285.87 1694.4,293.4 1701.93,304.69 1694.4,310.34 1679.34,304.69 1668.05,295.28" fill="#19381d" opacity="1" filter="url(#cell)"/>
<ellipse cx="1683.11" cy="295.28" rx="8.47" ry="5.27" fill="#234a2a" opacity="1" filter="url(#cell)" transform="rotate(30 1683.11 295.28)"/>
<polygon points="1705.69,259.52 1713.22,263.29 1716.99,278.34 1715.11,289.64 1709.46,289.64 1706.64,274.58" fill="#244e2e" opacity="1" filter="url(#cell)"/>
<polygon points="1737.69,267.05 1747.1,259.52 1745.22,276.46 1739.57,289.64 1732.05,300.93 1730.16,293.4 1733.93,278.34" fill="#244e2e" opacity="1" filter="url(#cell)"/>
<polygon points="1724.52,220 1732.05,210.59 1730.16,235.05 1726.4,255.76 1720.75,263.29 1720.75,244.47" fill="#1a3a22" opacity="1" filter="url(#cell)"/>
<polygon points="1634.17,293.4 1649.23,293.4 1654.88,308.46 1649.23,323.52 1637.94,319.75 1634.17,304.69" fill="#183620" opacity="1" filter="url(#cell)"/>
<polygon points="1617.23,220 1630.41,223.76 1645.47,236.94 1637.94,240.7 1624.76,233.17" fill="#17341e" opacity="1" filter="url(#cell)"/>
<polygon points="1762.16,250.11 1767.81,248.23 1767.81,272.7 1762.16,270.82" fill="#22482a" opacity="1" filter="url(#cell)"/>
<polygon points="1720.75,308.46 1732.05,312.22 1739.57,323.52 1728.28,323.52" fill="#1c3c24" opacity="1" filter="url(#cell)"/>
<polygon points="1705.69,191.76 1718.87,191.76 1716.99,195.53 1707.58,195.53" fill="#1c3c24" opacity="1" filter="url(#cell)"/>
<polygon points="1592.76,246.35 1600.29,250.11 1602.18,267.05 1594.65,267.05" fill="#1c3c24" opacity="1" filter="url(#cell)"/>
<ellipse cx="1605" cy="326.34" rx="2.26" ry="2.64" fill="#3a8a48" opacity="1" filter="url(#b1)" transform="rotate(0 1605 326.34)"/>
<ellipse cx="1664.29" cy="235.05" rx="1.13" ry="1.13" fill="#3e8a44" opacity="1" filter="url(#b1)" transform="rotate(0 1664.29 235.05)"/>
<ellipse cx="1668.05" cy="237.88" rx="1.13" ry="1.13" fill="#3e8a44" opacity="1" filter="url(#b1)" transform="rotate(0 1668.05 237.88)"/>
<ellipse cx="1675.58" cy="238.82" rx="1.13" ry="1.13" fill="#3e8a44" opacity="1" filter="url(#b1)" transform="rotate(0 1675.58 238.82)"/>
<ellipse cx="1678.4" cy="240.7" rx="1.13" ry="1.13" fill="#3e8a44" opacity="1" filter="url(#b1)" transform="rotate(0 1678.4 240.7)"/>
<ellipse cx="1624.76" cy="265.17" rx="1.13" ry="1.13" fill="#3e8a44" opacity="1" filter="url(#b1)" transform="rotate(0 1624.76 265.17)"/>
<ellipse cx="1629.47" cy="274.58" rx="1.13" ry="1.13" fill="#3e8a44" opacity="1" filter="url(#b1)" transform="rotate(0 1629.47 274.58)"/>
<ellipse cx="1634.17" cy="273.64" rx="1.13" ry="1.13" fill="#3e8a44" opacity="1" filter="url(#b1)" transform="rotate(0 1634.17 273.64)"/>
<ellipse cx="1686.87" cy="295.28" rx="1.13" ry="1.13" fill="#3e8a44" opacity="1" filter="url(#b1)" transform="rotate(0 1686.87 295.28)"/>
<ellipse cx="1739.57" cy="276.46" rx="1.13" ry="1.13" fill="#3e8a44" opacity="1" filter="url(#b1)" transform="rotate(0 1739.57 276.46)"/>
</g>
<text x="1563.3" y="170" font-size="8.8" text-anchor="middle" fill="#dcdcdc" stroke="#dcdcdc" stroke-width="0.25" textLength="25" lengthAdjust="spacingAndGlyphs" >200μm</text>
<line x1="1553.1" y1="174.2" x2="1574.7" y2="174.2" stroke="#a0a0a0" stroke-width="1.4" />
<text x="1753.4" y="170" font-size="8.8" text-anchor="middle" fill="#dcdcdc" stroke="#dcdcdc" stroke-width="0.25" textLength="25" lengthAdjust="spacingAndGlyphs" >200μm</text>
<line x1="1743.2" y1="174.2" x2="1764.8" y2="174.2" stroke="#a0a0a0" stroke-width="1.4" />
<text x="1563.3" y="322" font-size="8.8" text-anchor="middle" fill="#dcdcdc" stroke="#dcdcdc" stroke-width="0.25" textLength="25" lengthAdjust="spacingAndGlyphs" >200μm</text>
<line x1="1553.1" y1="326.2" x2="1574.7" y2="326.2" stroke="#a0a0a0" stroke-width="1.4" />
<text x="1753.4" y="322" font-size="8.8" text-anchor="middle" fill="#dcdcdc" stroke="#dcdcdc" stroke-width="0.25" textLength="25" lengthAdjust="spacingAndGlyphs" >200μm</text>
<line x1="1743.2" y1="326.2" x2="1764.8" y2="326.2" stroke="#a0a0a0" stroke-width="1.4" />
<text x="7.3" y="435" font-size="36" font-weight="bold" fill="#000" >E</text>
<line x1="116" y1="464.5" x2="116" y2="719.1" stroke="#1a1a1a" stroke-width="1.8" />
<line x1="115.1" y1="718.2" x2="318.2" y2="718.2" stroke="#1a1a1a" stroke-width="1.8" />
<line x1="106" y1="718.2" x2="116" y2="718.2" stroke="#1a1a1a" stroke-width="1.8" />
<text x="102.8" y="722.9" font-size="13.2" text-anchor="end" stroke="#141010" stroke-width="0.25" >0</text>
<line x1="106" y1="655" x2="116" y2="655" stroke="#1a1a1a" stroke-width="1.8" />
<text x="102.8" y="659.7" font-size="13.2" text-anchor="end" stroke="#141010" stroke-width="0.25" >2</text>
<line x1="106" y1="591.8" x2="116" y2="591.8" stroke="#1a1a1a" stroke-width="1.8" />
<text x="102.8" y="596.5" font-size="13.2" text-anchor="end" stroke="#141010" stroke-width="0.25" >4</text>
<line x1="106" y1="528.6" x2="116" y2="528.6" stroke="#1a1a1a" stroke-width="1.8" />
<text x="102.8" y="533.3" font-size="13.2" text-anchor="end" stroke="#141010" stroke-width="0.25" >6</text>
<line x1="106" y1="465.4" x2="116" y2="465.4" stroke="#1a1a1a" stroke-width="1.8" />
<text x="102.8" y="470.1" font-size="13.2" text-anchor="end" stroke="#141010" stroke-width="0.25" >8</text>
<text x="82.9" y="725.3" font-size="18.2" stroke="#141010" stroke-width="0.25" textLength="260.7" lengthAdjust="spacingAndGlyphs" transform="rotate(-90 82.9 725.3)" >Average Number of Autogosome</text>
<rect x="124.7" y="449.3" width="25.6" height="7.8" fill="#dc0000" stroke="#000" stroke-width="1.4" />
<rect x="124.7" y="471.2" width="25.6" height="7.8" fill="#4848f0" stroke="#000" stroke-width="1.4" />
<text x="166.6" y="459.7" font-size="17.6" stroke="#141010" stroke-width="0.25" textLength="86.6" lengthAdjust="spacingAndGlyphs" >MYOC-WT</text>
<text x="166.6" y="481.1" font-size="17.6" stroke="#141010" stroke-width="0.25" textLength="112" lengthAdjust="spacingAndGlyphs" >MYOC-N450Y</text>
<rect x="132.2" y="660.22" width="26.8" height="57.98" fill="#dc0000" stroke="#000" stroke-width="1.6" />
<line x1="145.6" y1="659.42" x2="145.6" y2="651.84" stroke="#000" stroke-width="1.7" />
<line x1="138.35" y1="651.84" x2="152.85" y2="651.84" stroke="#000" stroke-width="1.7" />
<rect x="164.8" y="550.57" width="26.8" height="167.63" fill="#4848f0" stroke="#000" stroke-width="1.6" />
<line x1="178.2" y1="549.77" x2="178.2" y2="526.07" stroke="#000" stroke-width="1.7" />
<line x1="170.95" y1="526.07" x2="185.45" y2="526.07" stroke="#000" stroke-width="1.7" />
<rect x="242.1" y="646.95" width="26.7" height="71.25" fill="#dc0000" stroke="#000" stroke-width="1.6" />
<line x1="255.45" y1="646.15" x2="255.45" y2="631.3" stroke="#000" stroke-width="1.7" />
<line x1="248.2" y1="631.3" x2="262.7" y2="631.3" stroke="#000" stroke-width="1.7" />
<rect x="274.7" y="544.57" width="26.8" height="173.63" fill="#4848f0" stroke="#000" stroke-width="1.6" />
<line x1="288.1" y1="543.77" x2="288.1" y2="512.17" stroke="#000" stroke-width="1.7" />
<line x1="280.85" y1="512.17" x2="295.35" y2="512.17" stroke="#000" stroke-width="1.7" />
<line x1="161.5" y1="718.2" x2="161.5" y2="728.2" stroke="#1a1a1a" stroke-width="1.8" />
<text x="161.5" y="747.2" font-size="17.2" text-anchor="middle" stroke="#141010" stroke-width="0.25" textLength="47.5" lengthAdjust="spacingAndGlyphs" >HTM1</text>
<line x1="271.5" y1="718.2" x2="271.5" y2="728.2" stroke="#1a1a1a" stroke-width="1.8" />
<text x="271.5" y="747.2" font-size="17.2" text-anchor="middle" stroke="#141010" stroke-width="0.25" textLength="47.5" lengthAdjust="spacingAndGlyphs" >HTM2</text>
<line x1="147.6" y1="521.3" x2="179.8" y2="521.3" stroke="#111" stroke-width="1.8" />
<text x="160.35" y="525.21" font-size="16.18" text-anchor="middle" fill="#000" >*</text>
<text x="167.05" y="525.21" font-size="16.18" text-anchor="middle" fill="#000" >*</text>
<line x1="257.1" y1="507.4" x2="290.7" y2="507.4" stroke="#111" stroke-width="1.8" />
<text x="270.55" y="511.31" font-size="16.18" text-anchor="middle" fill="#000" >*</text>
<text x="277.25" y="511.31" font-size="16.18" text-anchor="middle" fill="#000" >*</text>
<text x="427.3" y="434.8" font-size="36" font-weight="bold" fill="#000" >F</text>
<line x1="478" y1="458.95" x2="478" y2="717.4" stroke="#1a1a1a" stroke-width="1.8" />
<line x1="477.1" y1="716.5" x2="863.6" y2="716.5" stroke="#1a1a1a" stroke-width="1.8" />
<line x1="468.2" y1="716.5" x2="478" y2="716.5" stroke="#1a1a1a" stroke-width="1.8" />
<text x="464.2" y="722.84" font-size="17.6" text-anchor="end" stroke="#141010" stroke-width="0.25" >0</text>
<line x1="468.2" y1="630.95" x2="478" y2="630.95" stroke="#1a1a1a" stroke-width="1.8" />
<text x="464.2" y="637.29" font-size="17.6" text-anchor="end" stroke="#141010" stroke-width="0.25" >50</text>
<line x1="468.2" y1="545.4" x2="478" y2="545.4" stroke="#1a1a1a" stroke-width="1.8" />
<text x="464.2" y="551.74" font-size="17.6" text-anchor="end" stroke="#141010" stroke-width="0.25" >100</text>
<line x1="468.2" y1="459.85" x2="478" y2="459.85" stroke="#1a1a1a" stroke-width="1.8" />
<text x="464.2" y="466.19" font-size="17.6" text-anchor="end" stroke="#141010" stroke-width="0.25" >150</text>
<text x="423.9" y="649.3" font-size="17" stroke="#141010" stroke-width="0.25" textLength="122.5" lengthAdjust="spacingAndGlyphs" transform="rotate(-90 423.9 649.3)" >Cell Viability (%)</text>
<rect x="489.6" y="460.6" width="26.6" height="5.8" fill="#000" stroke="#000" stroke-width="1.4" />
<text x="531.6" y="469.8" font-size="16.2" stroke="#141010" stroke-width="0.25" textLength="48.8" lengthAdjust="spacingAndGlyphs" >Empty</text>
<rect x="489.6" y="484.3" width="26.6" height="5.8" fill="#d84242" stroke="#000" stroke-width="1.4" />
<text x="531.6" y="493.6" font-size="16.2" stroke="#141010" stroke-width="0.25" textLength="81.3" lengthAdjust="spacingAndGlyphs" >MYOC-WT</text>
<rect x="489.6" y="506.3" width="26.6" height="5.8" fill="#5a5af0" stroke="#000" stroke-width="1.4" />
<text x="531.6" y="515.3" font-size="16.2" stroke="#141010" stroke-width="0.25" textLength="104.7" lengthAdjust="spacingAndGlyphs" >MYOC-N450Y</text>
<rect x="488.6" y="546.2" width="18.3" height="170.3" fill="#000" stroke="#000" stroke-width="1.6" />
<line x1="497.75" y1="545.4" x2="497.75" y2="541.64" stroke="#000" stroke-width="1.7" />
<line x1="492.55" y1="541.64" x2="502.95" y2="541.64" stroke="#000" stroke-width="1.7" />
<rect x="511.8" y="546.2" width="18.3" height="170.3" fill="#d84242" stroke="#000" stroke-width="1.6" />
<line x1="520.95" y1="545.4" x2="520.95" y2="540.27" stroke="#000" stroke-width="1.7" />
<line x1="515.75" y1="540.27" x2="526.15" y2="540.27" stroke="#000" stroke-width="1.7" />
<rect x="534.5" y="546.71" width="18.3" height="169.79" fill="#5a5af0" stroke="#000" stroke-width="1.6" />
<line x1="543.65" y1="545.91" x2="543.65" y2="539.41" stroke="#000" stroke-width="1.7" />
<line x1="538.45" y1="539.41" x2="548.85" y2="539.41" stroke="#000" stroke-width="1.7" />
<line x1="520.9" y1="716.5" x2="520.9" y2="726.2" stroke="#1a1a1a" stroke-width="1.8" />
<text x="520.9" y="745.4" font-size="16.4" text-anchor="middle" stroke="#141010" stroke-width="0.25" >0</text>
<rect x="588.1" y="602.49" width="18.3" height="114.01" fill="#000" stroke="#000" stroke-width="1.6" />
<line x1="597.25" y1="601.69" x2="597.25" y2="597.76" stroke="#000" stroke-width="1.7" />
<line x1="592.05" y1="597.76" x2="602.45" y2="597.76" stroke="#000" stroke-width="1.7" />
<rect x="611.3" y="604.37" width="18.3" height="112.13" fill="#d84242" stroke="#000" stroke-width="1.6" />
<line x1="620.45" y1="603.57" x2="620.45" y2="595.02" stroke="#000" stroke-width="1.7" />
<line x1="615.25" y1="595.02" x2="625.65" y2="595.02" stroke="#000" stroke-width="1.7" />
<rect x="634" y="630.72" width="18.3" height="85.78" fill="#5a5af0" stroke="#000" stroke-width="1.6" />
<line x1="643.15" y1="629.92" x2="643.15" y2="623.93" stroke="#000" stroke-width="1.7" />
<line x1="637.95" y1="623.93" x2="648.35" y2="623.93" stroke="#000" stroke-width="1.7" />
<line x1="620.4" y1="716.5" x2="620.4" y2="726.2" stroke="#1a1a1a" stroke-width="1.8" />
<text x="620.4" y="745.4" font-size="16.4" text-anchor="middle" stroke="#141010" stroke-width="0.25" >20</text>
<rect x="687.6" y="649.89" width="18.3" height="66.61" fill="#000" stroke="#000" stroke-width="1.6" />
<line x1="696.75" y1="649.09" x2="696.75" y2="642.41" stroke="#000" stroke-width="1.7" />
<line x1="691.55" y1="642.41" x2="701.95" y2="642.41" stroke="#000" stroke-width="1.7" />
<rect x="710.8" y="651.6" width="18.3" height="64.9" fill="#d84242" stroke="#000" stroke-width="1.6" />
<line x1="719.95" y1="650.8" x2="719.95" y2="644.12" stroke="#000" stroke-width="1.7" />
<line x1="714.75" y1="644.12" x2="725.15" y2="644.12" stroke="#000" stroke-width="1.7" />
<rect x="733.5" y="675.89" width="18.3" height="40.61" fill="#5a5af0" stroke="#000" stroke-width="1.6" />
<line x1="742.65" y1="675.09" x2="742.65" y2="668.59" stroke="#000" stroke-width="1.7" />
<line x1="737.45" y1="668.59" x2="747.85" y2="668.59" stroke="#000" stroke-width="1.7" />
<line x1="719.9" y1="716.5" x2="719.9" y2="726.2" stroke="#1a1a1a" stroke-width="1.8" />
<text x="719.9" y="745.4" font-size="16.4" text-anchor="middle" stroke="#141010" stroke-width="0.25" >30</text>
<rect x="787.1" y="700.36" width="18.3" height="16.14" fill="#000" stroke="#000" stroke-width="1.6" />
<line x1="796.25" y1="699.56" x2="796.25" y2="697.17" stroke="#000" stroke-width="1.7" />
<line x1="791.05" y1="697.17" x2="801.45" y2="697.17" stroke="#000" stroke-width="1.7" />
<rect x="810.3" y="703.1" width="18.3" height="13.4" fill="#d84242" stroke="#000" stroke-width="1.6" />
<line x1="819.45" y1="702.3" x2="819.45" y2="700.25" stroke="#000" stroke-width="1.7" />
<line x1="814.25" y1="700.25" x2="824.65" y2="700.25" stroke="#000" stroke-width="1.7" />
<rect x="833" y="711.82" width="18.3" height="4.68" fill="#5a5af0" stroke="#000" stroke-width="1.6" />
<line x1="842.15" y1="711.02" x2="842.15" y2="708.63" stroke="#000" stroke-width="1.7" />
<line x1="836.95" y1="708.63" x2="847.35" y2="708.63" stroke="#000" stroke-width="1.7" />
<line x1="819.4" y1="716.5" x2="819.4" y2="726.2" stroke="#1a1a1a" stroke-width="1.8" />
<text x="819.4" y="745.4" font-size="16.4" text-anchor="middle" stroke="#141010" stroke-width="0.25" >50</text>
<line x1="619.5" y1="590.9" x2="643.2" y2="590.9" stroke="#111" stroke-width="1.8" />
<text x="631.35" y="592.55" font-size="20.29" text-anchor="middle" fill="#000" >*</text>
<line x1="719.7" y1="639" x2="746.2" y2="639" stroke="#111" stroke-width="1.8" />
<text x="732.95" y="640.65" font-size="20.29" text-anchor="middle" fill="#000" >*</text>
<line x1="818.6" y1="691.8" x2="842.3" y2="691.8" stroke="#111" stroke-width="1.8" />
<text x="830.45" y="693.45" font-size="20.29" text-anchor="middle" fill="#000" >*</text>
<text x="670.7" y="779.8" font-size="16.3" text-anchor="middle" stroke="#141010" stroke-width="0.25" textLength="117.5" lengthAdjust="spacingAndGlyphs" >Rapamycin(μM)</text>
<text x="898.3" y="434.8" font-size="36" font-weight="bold" fill="#000" >G</text>
<line x1="966.4" y1="458.95" x2="966.4" y2="717.4" stroke="#1a1a1a" stroke-width="1.8" />
<line x1="965.5" y1="716.5" x2="1352.3" y2="716.5" stroke="#1a1a1a" stroke-width="1.8" />
<line x1="956.6" y1="716.5" x2="966.4" y2="716.5" stroke="#1a1a1a" stroke-width="1.8" />
<text x="952.6" y="722.3" font-size="16.1" text-anchor="end" stroke="#141010" stroke-width="0.25" >0</text>
<line x1="956.6" y1="630.95" x2="966.4" y2="630.95" stroke="#1a1a1a" stroke-width="1.8" />
<text x="952.6" y="636.75" font-size="16.1" text-anchor="end" stroke="#141010" stroke-width="0.25" >50</text>
<line x1="956.6" y1="545.4" x2="966.4" y2="545.4" stroke="#1a1a1a" stroke-width="1.8" />
<text x="952.6" y="551.2" font-size="16.1" text-anchor="end" stroke="#141010" stroke-width="0.25" >100</text>
<line x1="956.6" y1="459.85" x2="966.4" y2="459.85" stroke="#1a1a1a" stroke-width="1.8" />
<text x="952.6" y="465.65" font-size="16.1" text-anchor="end" stroke="#141010" stroke-width="0.25" >150</text>
<text x="918.2" y="649.3" font-size="17" stroke="#141010" stroke-width="0.25" textLength="122.5" lengthAdjust="spacingAndGlyphs" transform="rotate(-90 918.2 649.3)" >Cell Viability (%)</text>
<rect x="978.6" y="460.6" width="26.6" height="5.8" fill="#000" stroke="#000" stroke-width="1.4" />
<text x="1020.6" y="469.8" font-size="16.2" stroke="#141010" stroke-width="0.25" textLength="48.8" lengthAdjust="spacingAndGlyphs" >Empty</text>
<rect x="978.6" y="484.3" width="26.6" height="5.8" fill="#d84242" stroke="#000" stroke-width="1.4" />
<text x="1020.6" y="493.6" font-size="16.2" stroke="#141010" stroke-width="0.25" textLength="81.3" lengthAdjust="spacingAndGlyphs" >MYOC-WT</text>
<rect x="978.6" y="506.3" width="26.6" height="5.8" fill="#5a5af0" stroke="#000" stroke-width="1.4" />
<text x="1020.6" y="515.3" font-size="16.2" stroke="#141010" stroke-width="0.25" textLength="104.7" lengthAdjust="spacingAndGlyphs" >MYOC-N450Y</text>
<rect x="978" y="546.2" width="18.3" height="170.3" fill="#000" stroke="#000" stroke-width="1.6" />
<line x1="987.15" y1="545.4" x2="987.15" y2="542.66" stroke="#000" stroke-width="1.7" />
<line x1="981.95" y1="542.66" x2="992.35" y2="542.66" stroke="#000" stroke-width="1.7" />
<rect x="1001.2" y="547.06" width="18.3" height="169.44" fill="#d84242" stroke="#000" stroke-width="1.6" />
<line x1="1010.35" y1="546.26" x2="1010.35" y2="542.83" stroke="#000" stroke-width="1.7" />
<line x1="1005.15" y1="542.83" x2="1015.55" y2="542.83" stroke="#000" stroke-width="1.7" />
<rect x="1023.9" y="547.06" width="18.3" height="169.44" fill="#5a5af0" stroke="#000" stroke-width="1.6" />
<line x1="1033.05" y1="546.26" x2="1033.05" y2="538.56" stroke="#000" stroke-width="1.7" />
<line x1="1027.85" y1="538.56" x2="1038.25" y2="538.56" stroke="#000" stroke-width="1.7" />
<line x1="1010.3" y1="716.5" x2="1010.3" y2="726.2" stroke="#1a1a1a" stroke-width="1.8" />
<text x="1010.3" y="745.4" font-size="16.4" text-anchor="middle" stroke="#141010" stroke-width="0.25" >0</text>
<rect x="1077.2" y="590.17" width="18.3" height="126.33" fill="#000" stroke="#000" stroke-width="1.6" />
<line x1="1086.35" y1="589.37" x2="1086.35" y2="584.75" stroke="#000" stroke-width="1.7" />
<line x1="1081.15" y1="584.75" x2="1091.55" y2="584.75" stroke="#000" stroke-width="1.7" />
<rect x="1100.4" y="593.08" width="18.3" height="123.42" fill="#d84242" stroke="#000" stroke-width="1.6" />
<line x1="1109.55" y1="592.28" x2="1109.55" y2="587.66" stroke="#000" stroke-width="1.7" />
<line x1="1104.35" y1="587.66" x2="1114.75" y2="587.66" stroke="#000" stroke-width="1.7" />
<rect x="1123.1" y="623.02" width="18.3" height="93.48" fill="#5a5af0" stroke="#000" stroke-width="1.6" />
<line x1="1132.25" y1="622.22" x2="1132.25" y2="615.21" stroke="#000" stroke-width="1.7" />
<line x1="1127.05" y1="615.21" x2="1137.45" y2="615.21" stroke="#000" stroke-width="1.7" />
<line x1="1109.5" y1="716.5" x2="1109.5" y2="726.2" stroke="#1a1a1a" stroke-width="1.8" />
<text x="1109.5" y="745.4" font-size="16.4" text-anchor="middle" stroke="#141010" stroke-width="0.25" >20</text>
<rect x="1176.7" y="621.48" width="18.3" height="95.02" fill="#000" stroke="#000" stroke-width="1.6" />
<line x1="1185.85" y1="620.68" x2="1185.85" y2="612.3" stroke="#000" stroke-width="1.7" />
<line x1="1180.65" y1="612.3" x2="1191.05" y2="612.3" stroke="#000" stroke-width="1.7" />
<rect x="1199.9" y="626.1" width="18.3" height="90.4" fill="#d84242" stroke="#000" stroke-width="1.6" />
<line x1="1209.05" y1="625.3" x2="1209.05" y2="619.32" stroke="#000" stroke-width="1.7" />
<line x1="1203.85" y1="619.32" x2="1214.25" y2="619.32" stroke="#000" stroke-width="1.7" />
<rect x="1222.6" y="661.35" width="18.3" height="55.15" fill="#5a5af0" stroke="#000" stroke-width="1.6" />
<line x1="1231.75" y1="660.55" x2="1231.75" y2="655.59" stroke="#000" stroke-width="1.7" />
<line x1="1226.55" y1="655.59" x2="1236.95" y2="655.59" stroke="#000" stroke-width="1.7" />
<line x1="1209" y1="716.5" x2="1209" y2="726.2" stroke="#1a1a1a" stroke-width="1.8" />
<text x="1209" y="745.4" font-size="16.4" text-anchor="middle" stroke="#141010" stroke-width="0.25" >30</text>
<rect x="1275.9" y="675.04" width="18.3" height="41.46" fill="#000" stroke="#000" stroke-width="1.6" />
<line x1="1285.05" y1="674.24" x2="1285.05" y2="668.25" stroke="#000" stroke-width="1.7" />
<line x1="1279.85" y1="668.25" x2="1290.25" y2="668.25" stroke="#000" stroke-width="1.7" />
<rect x="1299.1" y="677.09" width="18.3" height="39.41" fill="#d84242" stroke="#000" stroke-width="1.6" />
<line x1="1308.25" y1="676.29" x2="1308.25" y2="674.07" stroke="#000" stroke-width="1.7" />
<line x1="1303.05" y1="674.07" x2="1313.45" y2="674.07" stroke="#000" stroke-width="1.7" />
<rect x="1321.8" y="699.51" width="18.3" height="16.99" fill="#5a5af0" stroke="#000" stroke-width="1.6" />
<line x1="1330.95" y1="698.71" x2="1330.95" y2="694.94" stroke="#000" stroke-width="1.7" />
<line x1="1325.75" y1="694.94" x2="1336.15" y2="694.94" stroke="#000" stroke-width="1.7" />
<line x1="1308.2" y1="716.5" x2="1308.2" y2="726.2" stroke="#1a1a1a" stroke-width="1.8" />
<text x="1308.2" y="745.4" font-size="16.4" text-anchor="middle" stroke="#141010" stroke-width="0.25" >50</text>
<line x1="1111.8" y1="582.1" x2="1132.8" y2="582.1" stroke="#111" stroke-width="1.8" />
<text x="1122.3" y="583.75" font-size="20.29" text-anchor="middle" fill="#000" >*</text>
<line x1="1211" y1="614.1" x2="1230.5" y2="614.1" stroke="#111" stroke-width="1.8" />
<text x="1220.75" y="615.75" font-size="20.29" text-anchor="middle" fill="#000" >*</text>
<line x1="1311.1" y1="670.2" x2="1329.5" y2="670.2" stroke="#111" stroke-width="1.8" />
<text x="1320.3" y="671.85" font-size="20.29" text-anchor="middle" fill="#000" >*</text>
<text x="1159.7" y="779.8" font-size="16.3" text-anchor="middle" stroke="#141010" stroke-width="0.25" textLength="118.6" lengthAdjust="spacingAndGlyphs" >Rapamycin(μM)</text>
</svg></body></html>
